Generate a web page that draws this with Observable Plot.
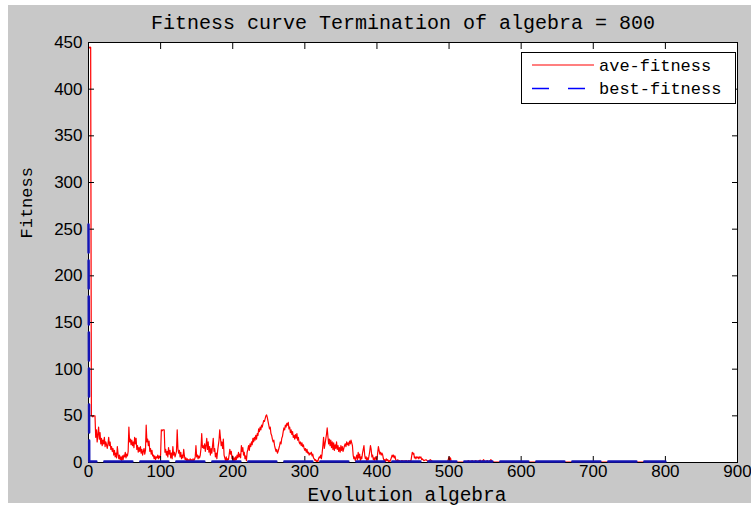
<!DOCTYPE html>
<html><head><meta charset="utf-8">
<script src="https://cdn.jsdelivr.net/npm/d3@7"></script>
<script src="https://cdn.jsdelivr.net/npm/@observablehq/plot@0.6"></script>
<style>
html,body{margin:0;padding:0;background:#fff;}
#chart svg{display:block;}
</style></head><body><div id="chart"></div>
<script>
// ave-fitness, index = generation (0..463)
const aveHead = [
445,445,444,445,50,50,49,50,50,50,
27,35,22,30,38,25,32,20,26,18,
24,20,27,17,22,19,15,20,27,18,
22,14,17,12,15,8,13,6,10,5,
17,9,4,8,3,6,2,7,3,8,
6,11,5,9,7,12,38,22,25,19,
24,18,22,16,27,20,26,14,18,11,
16,12,17,10,14,8,12,15,9,13,
40,22,25,18,23,12,15,9,13,7,
8,4,7,3,6,5,8,4,7,5,
8,35,34,35,35,35,11,14,8,12,
6,16,9,13,5,10,4,17,8,11,
6,9,12,35,15,10,13,6,11,4,
8,5,14,7,3,5,2,4,1,3,
1,4,2,3,1,4,2,3,6,18,
6,8,4,7,5,8,15,31,16,18,
15,20,12,18,26,14,22,11,17,8,
15,10,18,26,12,15,6,10,4,12,
18,24,35,26,18,22,15,25,8,5,
2,6,1,4,3,8,14,9,12,4,
7,2,5,1,6,3,8,5,11,6,
9,5,18,12,16,8,11,4,7,2,
11,14,18,13,20,17,22,19,26,22,
27,24,29,25,31,29,36,33,38,35,
40,38,42,45,44,47,50,51,48,44,
40,36,38,31,29,25,22,24,18,15,
12,14,10,12,15,18,22,20,26,28,
33,37,35,40,38,42,40,43,36,38,
32,35,30,33,27,29,25,30,26,31,
24,27,22,20,22,18,21,17,19,15,
13,15,11,14,10,11,8,10,9,11,
7,9,5,4,2,3,1,2,1,4,
6,5,8,4,10,18,27,15,20,25,
30,37,28,20,25,18,24,16,22,14,
21,13,19,15,22,14,18,12,16,11,
18,13,17,12,15,18,20,17,22,19,
21,18,23,20,24,21,18,8,4,6,
2,5,8,3,11,5,9,2,6,4,
10,14,18,8,4,6,2,5,3,7,
12,18,14,6,8,3,5,2,6,4,
3,10,17,13,9,11,8,10,8,4,
2,3,1,4,2,3,1,2,1,3,
5,8,6,8,5,7,3,2,1,3,
1,2,1,1,2,1,2,1,1,2,
1,2,1,1,2,1,2,1,6,11,
9,10,5,6,4,6,5,6,4,6,
5,6,3,4
];
const tailGen = [465,468,471,474,477,480,485,490,495,498,500,501,502,503,505,510,515,520,525,527,529,532,534,537,539,543,545,548,550,553,555,558,560,563,570,600,650,700,750,800];
const tailVal = [2,3,1,3,1,0.5,0.3,0.5,0.3,1,6,2,5,1,0.5,0.3,0.5,0.3,1,2,0.5,2,0.5,2,0.5,2.5,0.5,3,0.5,2,0.5,3,1,0.5,0.3,0.3,0.3,0.3,0.3,0.3];
// best-fitness
const bestGen = [0, 1, 800];
const bestVal = [255, 1.2, 1.2];

const xTicks = [0,100,200,300,400,500,600,700,800,900];
const yTicks = [0,50,100,150,200,250,300,350,400,450];
const titleText = "Fitness curve Termination of algebra = 800";
const xLabel = "Evolution algebra";
const yLabel = "Fitness";
const seriesNames = ["ave-fitness", "best-fitness"];
const seriesColors = ["#ff0000", "#1414b4"];

const ave = aveHead.map((v, i) => ({gen: i, value: v}))
  .concat(tailGen.map((g, i) => ({gen: g, value: tailVal[i]})));
const best = bestGen.map((g, i) => ({gen: g, value: bestVal[i]}));

const mono = "'Liberation Mono', 'DejaVu Sans Mono', monospace";
const sans = "'Liberation Sans', Arial, sans-serif";

const chart = Plot.plot({
  width: 751, height: 506,
  marginLeft: 88, marginRight: 14, marginTop: 42, marginBottom: 44,
  style: {background: "transparent", fontFamily: sans, fontSize: "17px", color: "#000"},
  x: {domain: [0, 900]},
  y: {domain: [0, 450]},
  marks: [
    Plot.frame({fill: "white", stroke: null}),
    Plot.lineY(ave, {x: "gen", y: "value", stroke: seriesColors[0], strokeWidth: 1.2}),
    Plot.axisX(xTicks, {anchor: "bottom", tickSize: -6, tickPadding: 8, label: null, fontSize: 17}),
    Plot.axisX(xTicks, {anchor: "top", tickSize: -6, tickFormat: () => "", label: null}),
    Plot.axisY(yTicks, {anchor: "left", tickSize: -6, tickPadding: 12, label: null, fontSize: 17}),
    Plot.axisY(yTicks, {anchor: "right", tickSize: -6, tickFormat: () => "", label: null}),
    Plot.frame({stroke: "black"}),
    Plot.lineY(best, {x: "gen", y: "value", stroke: seriesColors[1], strokeWidth: 2.5, strokeDasharray: "28,8"}),
    Plot.text([titleText], {text: d => d, frameAnchor: "top", lineAnchor: "middle", dy: -20, dx: -10, fontFamily: mono, fontSize: 20}),
    Plot.text([xLabel], {text: d => d, frameAnchor: "bottom", lineAnchor: "middle", dy: 32, dx: -6, fontFamily: mono, fontSize: 19.5}),
    Plot.text([yLabel], {text: d => d, frameAnchor: "left", lineAnchor: "middle", dx: -62, dy: -14, rotate: -90, fontFamily: mono, fontSize: 17})
  ]
});

const svg = d3.select(chart);
svg.insert("rect", ":first-child")
  .attr("x", 8).attr("y", 5).attr("width", 743).attr("height", 498)
  .attr("fill", "#c8c8c8");

// legend
const lg = svg.append("g").attr("class", "legend").attr("text-anchor", "start");
lg.append("rect").attr("x", 521.5).attr("y", 52.5).attr("width", 214).attr("height", 51)
  .attr("fill", "white").attr("stroke", "black");
seriesNames.forEach((name, i) => {
  const y = 65 + i * 23.5;
  lg.append("line").attr("x1", 532).attr("x2", 594).attr("y1", y).attr("y2", y)
    .attr("stroke", i === 0 ? seriesColors[0] : "#0000ff").attr("stroke-width", i === 0 ? 1.2 : 1.5)
    .attr("stroke-dasharray", i === 0 ? null : "17,19");
  lg.append("text").attr("x", 599).attr("y", y).attr("dy", "0.35em")
    .attr("text-anchor", "start")
    .attr("font-family", mono).attr("font-size", 17).attr("fill", "#000").text(name);
});

document.getElementById("chart").appendChild(chart);
</script>
</body></html>
